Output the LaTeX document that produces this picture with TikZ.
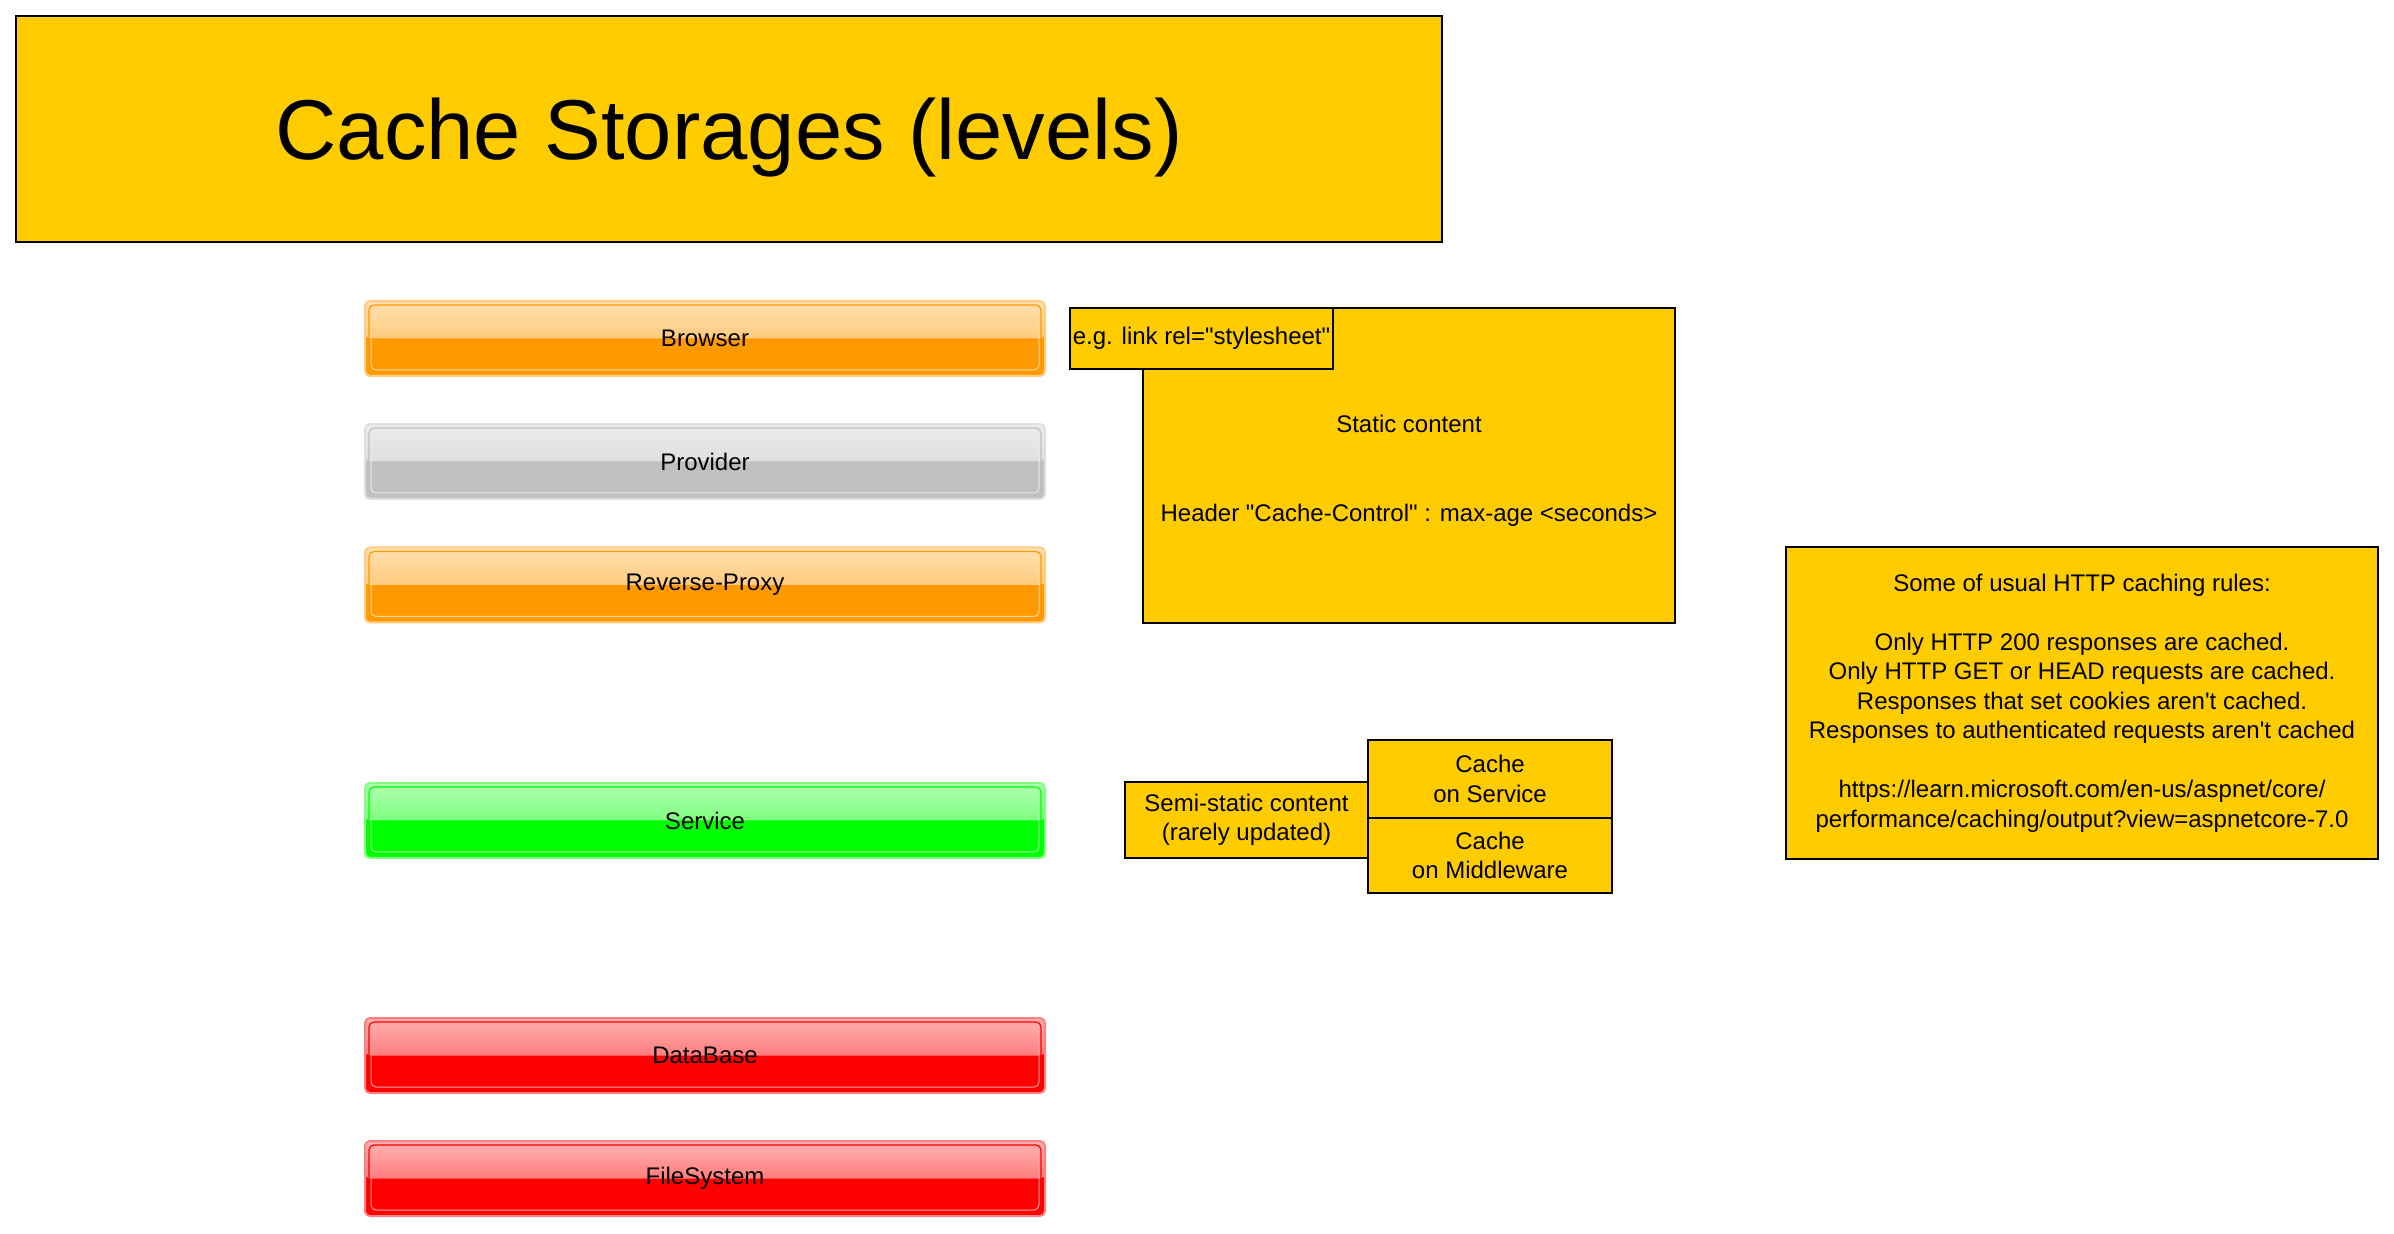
\documentclass[tikz,border=0pt]{standalone}
\usepackage{fontspec}
\setmainfont{Liberation Sans}
\definecolor{gold}{HTML}{FFCC00}
\definecolor{amber}{HTML}{FF9900}
\definecolor{silver}{HTML}{C0C0C0}
\definecolor{lime}{HTML}{00FF00}
\definecolor{scarlet}{HTML}{FF0000}
\newcommand{\qq}{\textquotedbl}
\tikzset{
  txt/.style={font=\fontsize{12}{14.75}\selectfont, align=center, inner sep=0pt},
  note/.style={txt, draw=black, line width=1pt, fill=gold},
  level/.style={txt, draw=#1!50, fill=#1, line width=1pt, rounded corners=2.5pt,
    minimum width=340pt, minimum height=37.5pt,
    path picture={
      \shade[top color=#1!30, bottom color=#1!72]
        (path picture bounding box.north west) rectangle (path picture bounding box.east);
      \draw[#1, line width=0.6pt]
        ([xshift=2pt,yshift=-2pt]path picture bounding box.north west) rectangle
        ([xshift=-2pt,yshift=2pt]path picture bounding box.south east);
      \draw[#1!35, line width=0.5pt]
        ([xshift=3pt,yshift=-3pt]path picture bounding box.north west) rectangle
        ([xshift=-3pt,yshift=3pt]path picture bounding box.south east);
    }},
}
\begin{document}
\begin{tikzpicture}[x=0.5pt, y=-0.5pt]
  \useasboundingbox (0,0) rectangle (2394,1234);

  % Title
  \node[note, line width=1.2pt, minimum width=713pt, minimum height=113pt, text depth=0pt,
        font=\fontsize{42.5}{50}\selectfont] (title) at (729,129) {Cache Storages (levels)};

  % Levels
  \node[level=amber]   (browser)    at (705,338.5)  {Browser};
  \node[level=silver]  (provider)   at (705,461.5)  {Provider};
  \node[level=amber]   (proxy)      at (705,585)    {Reverse-Proxy};
  \node[level=lime]    (service)    at (705,820.5)  {Service};
  \node[level=scarlet] (database)   at (705,1055.5) {DataBase};
  \node[level=scarlet] (filesystem) at (705,1178.5) {FileSystem};

  % Static content
  \node[note, minimum width=266pt, minimum height=157.5pt] (static) at (1409,465.5)
    {\rule{0pt}{14pt}Static content\\[29.5pt]Header \qq Cache-Control\qq{} : max-age <seconds>};
  \node[note, minimum width=131.5pt, minimum height=30.5pt] (eglink) at (1201.5,338.5)
    {e.g. link rel=\qq stylesheet\qq};

  % Semi-static content
  \node[note, minimum width=121.5pt, minimum height=38pt] (semistatic) at (1246.5,820)
    {Semi-static content\\(rarely updated)};
  \node[note, minimum width=122pt, minimum height=39pt] (cachesvc) at (1490,779)
    {Cache\\on Service};
  \node[note, minimum width=122pt, minimum height=37.5pt] (cachemw) at (1490,855.5)
    {Cache\\on Middleware};

  % Rules
  \node[note, minimum width=296pt, minimum height=156pt] (rules) at (2082,703)
    {Some of usual HTTP caching rules:\\[14.75pt]
     Only HTTP 200 responses are cached.\\
     Only HTTP GET or HEAD requests are cached.\\
     Responses that set cookies aren\textquotesingle t cached.\\
     Responses to authenticated requests aren\textquotesingle t cached\\[14.75pt]
     https://learn.microsoft.com/en-us/aspnet/core/\\
     performance/caching/output?view=aspnetcore-7.0};
\end{tikzpicture}
\end{document}
